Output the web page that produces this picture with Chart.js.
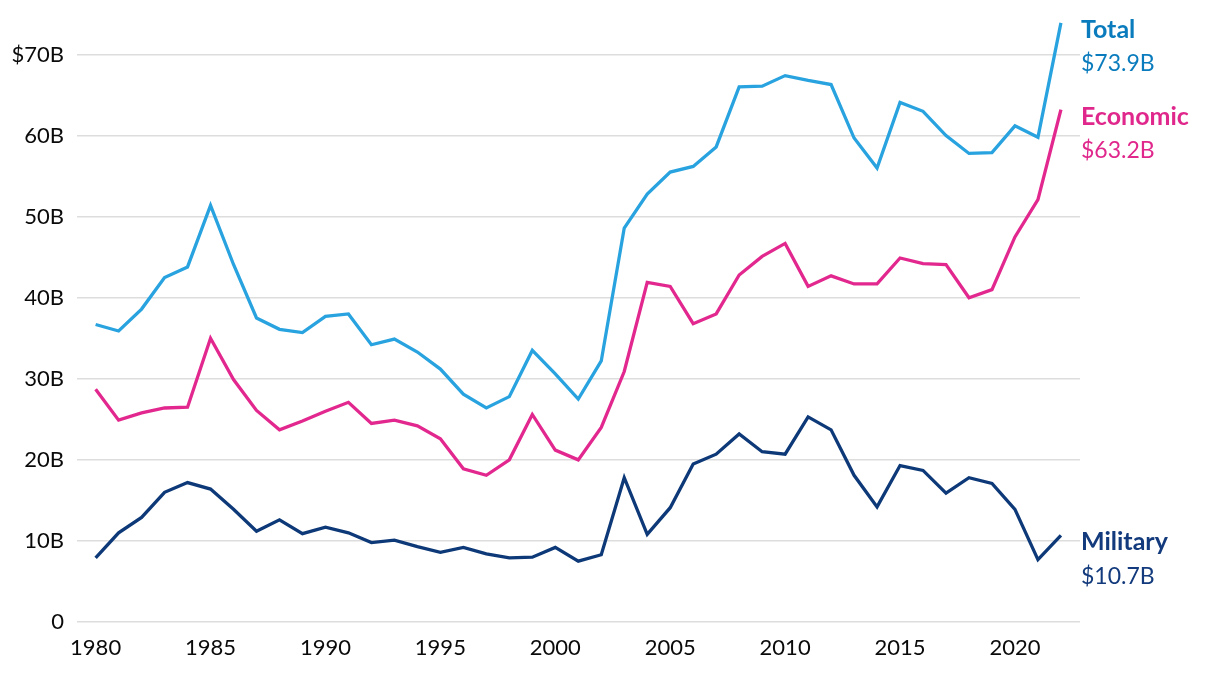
<!DOCTYPE html>
<html>
<head>
<meta charset="utf-8">
<script src="https://cdn.jsdelivr.net/npm/chart.js@4.4.1/dist/chart.umd.min.js"></script>
<style>
  html, body { margin: 0; padding: 0; background: #fff; }
  #wrap { width: 1220px; height: 678px; }
</style>
</head>
<body>
<div id="wrap"><canvas id="chart" width="1220" height="678"></canvas></div>
<script>
const years = [];
for (let y = 1980; y <= 2022; y++) years.push(y);

const total = [36.7, 35.9, 38.6, 42.5, 43.8, 51.4, 44.1, 37.5, 36.1, 35.7,
  37.7, 38.0, 34.2, 34.9, 33.3, 31.2, 28.1, 26.4, 27.8, 33.5,
  30.6, 27.5, 32.2, 48.6, 52.8, 55.5, 56.2, 58.6, 66.0, 66.1,
  67.4, 66.8, 66.3, 59.7, 56.0, 64.1, 63.0, 60.0, 57.8, 57.9,
  61.2, 59.8, 73.9];

const economic = [28.7, 24.9, 25.8, 26.4, 26.5, 35.0, 29.9, 26.1, 23.7, 24.8,
  26.0, 27.1, 24.5, 24.9, 24.2, 22.6, 18.9, 18.1, 20.0, 25.6,
  21.2, 20.0, 24.0, 30.9, 41.9, 41.4, 36.8, 38.0, 42.8, 45.1,
  46.7, 41.4, 42.7, 41.7, 41.7, 44.9, 44.2, 44.1, 40.0, 41.0,
  47.5, 52.1, 63.2];

const military = [7.9, 11.0, 12.9, 16.0, 17.2, 16.4, 13.9, 11.2, 12.6, 10.9,
  11.7, 11.0, 9.8, 10.1, 9.3, 8.6, 9.2, 8.4, 7.9, 8.0,
  9.2, 7.5, 8.3, 17.8, 10.8, 14.1, 19.5, 20.7, 23.2, 21.0,
  20.7, 25.3, 23.7, 18.1, 14.2, 19.3, 18.7, 15.9, 17.8, 17.1,
  13.9, 7.7, 10.7];

const xTicks = [1980, 1985, 1990, 1995, 2000, 2005, 2010, 2015, 2020];
const yTicks = [0, 10, 20, 30, 40, 50, 60, 70];

const seriesNames = ["Total", "Economic", "Military"];
const lineColors = ["#29a3df", "#e2288e", "#0d3978"];
const labelColors = ["#0a7cbd", "#e0278c", "#123a7c"];

const FONT = "Lato, 'Open Sans', sans-serif";

function toPoints(vals) {
  return vals.map((v, i) => ({ x: years[i], y: v }));
}

// end-of-line labels on the right side
const endLabels = {
  id: "endLabels",
  afterDatasetsDraw(chart) {
    const ctx = chart.ctx;
    const x = chart.chartArea.right + 1;
    ctx.save();
    ctx.textAlign = "left";
    ctx.textBaseline = "middle";
    chart.data.datasets.forEach((ds, i) => {
      const last = ds.data[ds.data.length - 1].y;
      const py = chart.scales.y.getPixelForValue(last);
      ctx.fillStyle = labelColors[i];
      ctx.font = "bold 25px " + FONT;
      ctx.fillText(seriesNames[i], x, py + 7);
      ctx.font = "23px " + FONT;
      ctx.fillText("$" + last.toFixed(1) + "B", x, py + 41);
    });
    ctx.restore();
  },
};

new Chart(document.getElementById("chart"), {
  type: "line",
  data: {
    datasets: [
      { label: "Total", data: toPoints(total) },
      { label: "Economic", data: toPoints(economic) },
      { label: "Military", data: toPoints(military) },
    ].map((ds, i) => ({
      ...ds,
      borderColor: lineColors[i],
      borderWidth: 3.3,
      pointRadius: 0,
      tension: 0,
      fill: false,
    })),
  },
  options: {
    responsive: false,
    animation: false,
    layout: { padding: { top: 14, right: 140, bottom: 0, left: 0 } },
    plugins: {
      legend: { display: false },
      tooltip: { enabled: false },
    },
    scales: {
      x: {
        type: "linear",
        min: 1979.19,
        max: 2022.83,
        afterBuildTicks: (axis) => {
          axis.ticks = xTicks.map((v) => ({ value: v }));
        },
        afterFit: (axis) => {
          axis.height = 56;
        },
        grid: { display: false, drawTicks: false },
        border: { display: false },
        ticks: {
          padding: 13,
          color: "#0a0a0a",
          font: { family: FONT, size: 22 },
          callback: (v) => String(v),
        },
      },
      y: {
        min: 0,
        max: 75,
        afterBuildTicks: (axis) => {
          axis.ticks = yTicks.map((v) => ({ value: v }));
        },
        afterFit: (axis) => {
          axis.width = 77;
          axis.paddingTop = 0;
          axis.paddingBottom = 0;
        },
        grid: { color: "#dddddd", lineWidth: 1.6, drawTicks: false },
        border: { display: false },
        ticks: {
          padding: 13,
          color: "#0a0a0a",
          font: { family: FONT, size: 22 },
          callback: (v) => (v === 0 ? "0" : v === 70 ? "$" + v + "B" : v + "B"),
        },
      },
    },
  },
  plugins: [endLabels],
});
</script>
</body>
</html>
